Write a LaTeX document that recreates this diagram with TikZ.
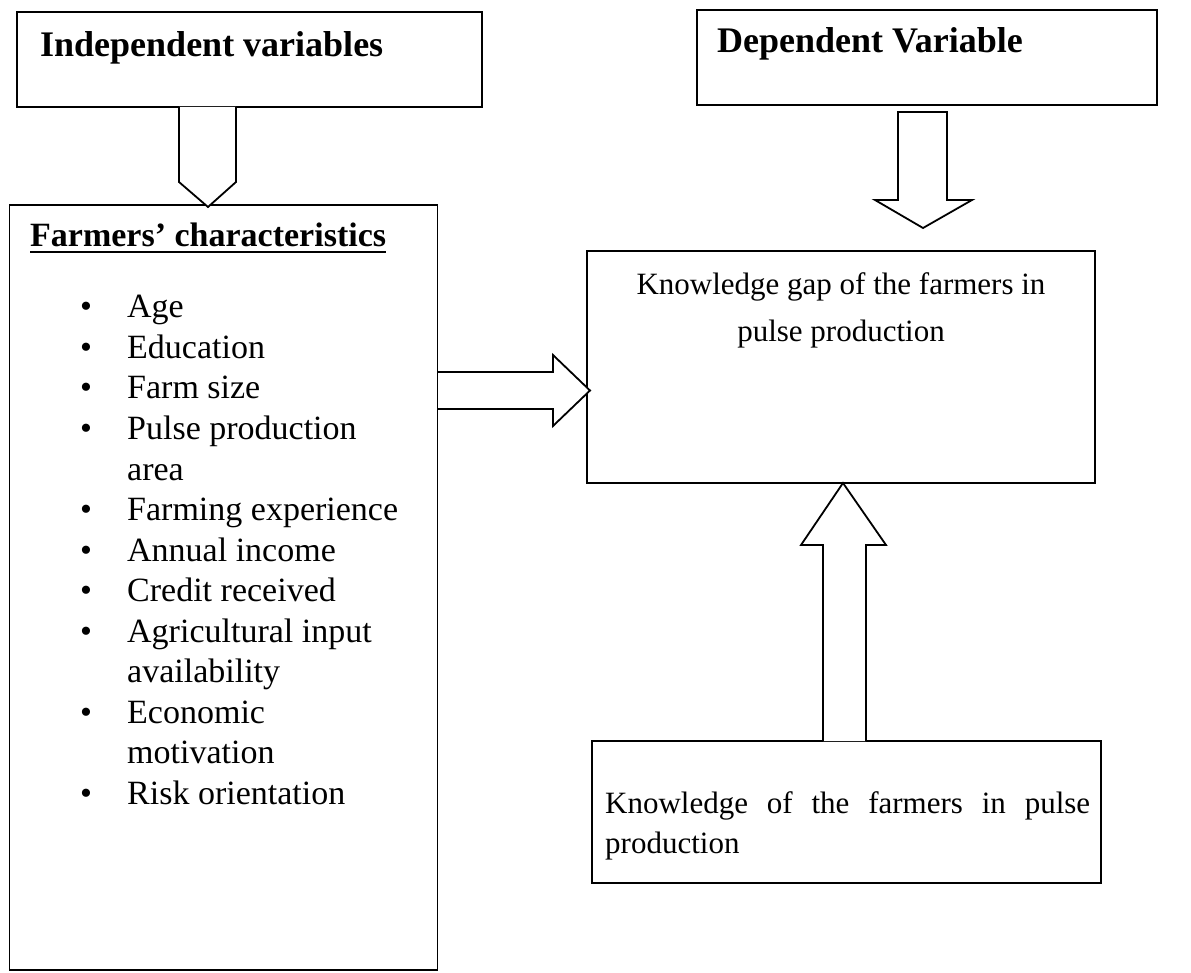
\documentclass[tikz,border=0pt]{standalone}
\usepackage{fontspec}
\setmainfont{Liberation Serif}
\begin{document}
\begin{tikzpicture}[x=1pt,y=-1pt,
  box/.style={draw, line width=1.8pt, inner sep=0pt, fill=none},
  txt/.style={inner sep=0pt, anchor=base west},
  ctxt/.style={inner sep=0pt, anchor=base},
  titlefont/.style={font=\fontsize{36}{40}\selectfont\bfseries},
  headfont/.style={font=\fontsize{34}{40}\selectfont\bfseries},
  listfont/.style={font=\fontsize{34}{40}\selectfont},
  bodyfont/.style={font=\fontsize{31}{40}\selectfont},
  blockarrow/.style={draw, line width=1.8pt, line join=miter, fill=white}]
\useasboundingbox (0,0) rectangle (1191,973);

% boxes
\node[box, minimum width=465pt, minimum height=95pt] (iv) at (249.5,59.5) {};
\node[box, minimum width=460pt, minimum height=95pt] (dv) at (927,57.5) {};
\node[box, minimum width=428pt, minimum height=765pt] (fc) at (223.5,587.5) {};
\node[box, minimum width=508pt, minimum height=232pt] (kg) at (841,367) {};
\node[box, minimum width=509pt, minimum height=142pt] (kn) at (846.5,812) {};

% titles
\node[txt, titlefont] (ivt) at (40,57) {Independent variables};
\node[txt, titlefont] (dvt) at (717,53) {Dependent Variable};
\node[txt, headfont] (fct) at (30,247) {Farmers’ characteristics};
\draw[line width=2.4pt] ([yshift=-5pt]fct.base west) -- ([yshift=-5pt]fct.base east);

% list
\foreach \t/\y/\b [count=\i] in {
  Age/318/1, Education/358.5/1, Farm size/399/1, Pulse production/439.5/1,
  area/480/0, Farming experience/520.5/1, Annual income/561/1,
  Credit received/601.5/1, Agricultural input/642/1, availability/682.5/0,
  Economic/723/1, motivation/763.5/0, Risk orientation/804/1}{
  \node[txt, listfont] (li\i) at (127,\y) {\t};
  \ifnum\b=1
    \node[ctxt, listfont] (bu\i) at (86,\y) {•};
  \fi
}

% right texts
\node[ctxt, bodyfont] (kg1) at (841,295) {Knowledge gap of the farmers in};
\node[ctxt, bodyfont] (kg2) at (841,342) {pulse production};
\node[txt, bodyfont] (kn1) at (605,813) {\makebox[485pt][s]{Knowledge of the farmers in pulse}};
\node[txt, bodyfont] (kn2) at (605,853) {production};

% block arrows
\draw[blockarrow] (179,107) -- (179,182) -- (208,207) -- (236,182) -- (236,107);
\draw[blockarrow] (898,112) -- (898,200) -- (875,200) -- (923,228) -- (972,200) -- (947,200) -- (947,112) -- cycle;
\draw[blockarrow] (438,372) -- (553,372) -- (553,355) -- (590,390.5) -- (553,426) -- (553,409) -- (438,409);
\draw[blockarrow] (823,741) -- (823,545) -- (801,545) -- (843,483) -- (886,545) -- (866,545) -- (866,741);
\end{tikzpicture}
\end{document}
